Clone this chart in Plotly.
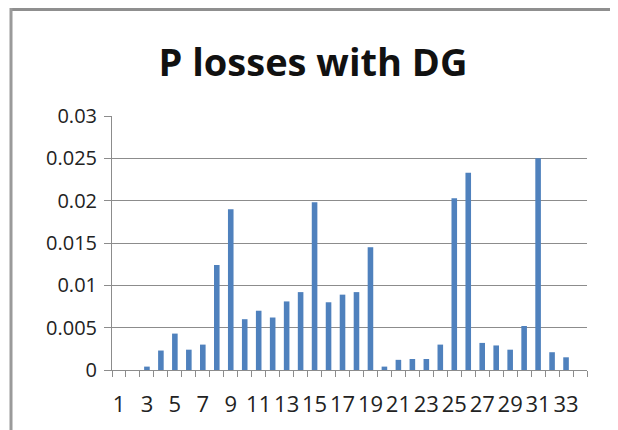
import plotly.graph_objects as go

buses = list(range(1, 34))
p_losses = [0.0, 0.0, 0.0004, 0.0023, 0.0043, 0.0024, 0.0030, 0.0124, 0.0190, 0.0060,
            0.0070, 0.0062, 0.0081, 0.0092, 0.0198, 0.0080, 0.0089, 0.0092, 0.0145, 0.0004,
            0.0012, 0.0013, 0.0013, 0.0030, 0.0203, 0.0233, 0.0032, 0.0029, 0.0024, 0.0052,
            0.0250, 0.0021, 0.0015]
x_ticks = list(range(1, 34, 2))
y_ticks = [0, 0.005, 0.01, 0.015, 0.02, 0.025, 0.03]
y_labels = ["0", "0.005", "0.01", "0.015", "0.02", "0.025", "0.03"]

W, H = 610, 422
L, T, PW, PH = 104, 108, 475, 254
fig = go.Figure(go.Bar(x=buses, y=p_losses, marker=dict(color="#4F81BD", line=dict(width=0)),
                       width=0.4))

font = "Open Sans, Liberation Sans, sans-serif"
fig.update_layout(
    width=W, height=H,
    margin=dict(l=L, r=W - L - PW, t=T, b=H - T - PH),
    paper_bgcolor="white", plot_bgcolor="white",
    title=dict(text="<b>P losses with DG</b>", x=0.5, xanchor="center", y=1 - 55/H, yanchor="middle",
               font=dict(family=font, size=38, color="#111111")),
    showlegend=False,
    font=dict(family=font, size=20, color="#222222"),
)
fig.update_xaxes(range=[0.5, 34.5], tickmode="array", tickvals=x_ticks, ticktext=[str(v) for v in x_ticks],
                 ticks="", showgrid=False, showline=True, linecolor="#8c8c8c", linewidth=1,
                 minor=dict(ticks="outside", tick0=0.5, dtick=1, ticklen=6, tickcolor="#8c8c8c", showgrid=False),
                 tickfont=dict(size=22), ticklabelstandoff=15)
fig.update_yaxes(range=[0, 0.03], tickmode="array", tickvals=y_ticks, ticktext=y_labels,
                 showgrid=True, gridcolor="#8c8c8c", gridwidth=1, zeroline=False,
                 showline=True, linecolor="#8c8c8c", linewidth=1,
                 ticks="outside", ticklen=7, tickcolor="#8c8c8c", tickfont=dict(size=20),
                 ticklabelstandoff=3)

def px(x):
    return (x - L) / PW

def py(y):
    return (T + PH - y) / PH

# outer frame of the embedded chart
fig.add_shape(type="line", xref="paper", yref="paper", x0=px(2), x1=px(609), y0=py(1.5), y1=py(1.5),
              line=dict(color="#8f8f8f", width=3))
fig.add_shape(type="line", xref="paper", yref="paper", x0=px(3), x1=px(3), y0=py(0), y1=py(H),
              line=dict(color="#9a9a9a", width=3))
fig.add_shape(type="line", xref="paper", yref="paper", x0=px(609), x1=px(609), y0=py(0), y1=py(H),
              line=dict(color="#d4d4d4", width=1.5))

fig.write_html("out.html")
